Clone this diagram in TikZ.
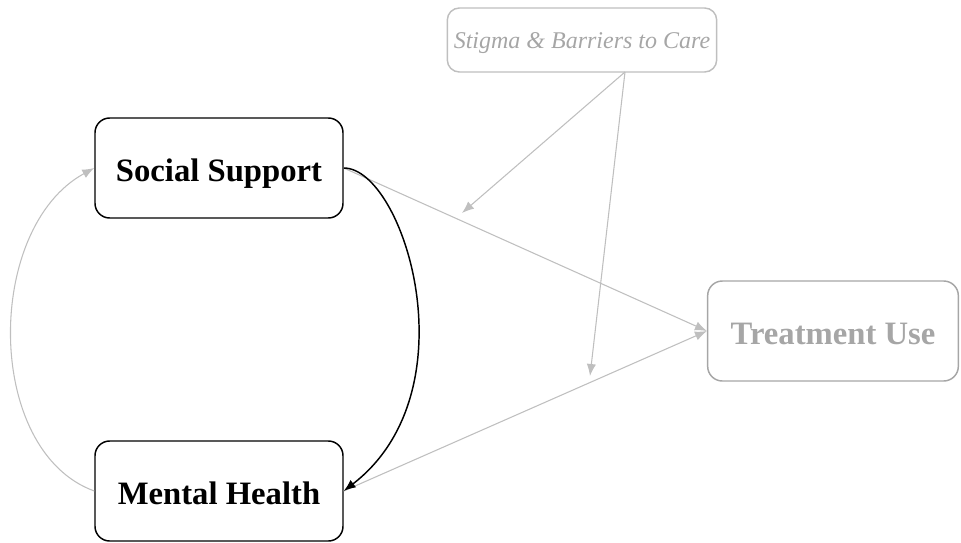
\documentclass[tikz,border=0pt]{standalone}
\usepackage{fontspec}
\setmainfont{Liberation Serif}
\usetikzlibrary{arrows.meta}
\definecolor{lightline}{HTML}{BFBFBF}
\definecolor{greytext}{HTML}{A6A6A6}

\begin{document}
\begin{tikzpicture}[x=0.75pt,y=-0.75pt]
\tikzstyle{var}=[rectangle,rounded corners=11pt,draw=black,line width=1.1pt,minimum width=186pt,minimum height=75pt,text height=20pt,text depth=0pt,font=\fontsize{24.5}{28}\selectfont\bfseries]
\tikzstyle{path}=[draw=lightline,line width=0.8pt,-{Latex[length=9pt,width=7pt]}]
\useasboundingbox (0,0) rectangle (961,543);

% Observed variables
\node (SS) [var] at (219,168) {Social Support};
\node (MH) [var] at (219,491) {Mental Health};
\node (TU) [var,draw=greytext,text=greytext,minimum width=188pt] at (833,331) {Treatment Use};

% Moderator
\node (SB) [var,draw=lightline,text=greytext,minimum width=202pt,minimum height=48pt,rounded corners=9pt,text height=12pt,text depth=0pt,font=\fontsize{18}{21}\selectfont\itshape] at (582,40) {Stigma \& Barriers to Care};
\coordinate (SBout) at (625,72);
\coordinate (modA) at (462,213);
\coordinate (modB) at (590,376);

% Main paths
\draw[path] (SS.east) -- (TU.west);
\draw[path] (MH.east) -- (TU.west);

% Covariances
\draw[line width=1.1pt,-{Latex[length=9pt,width=7pt]}] (SS.east) .. controls +(60,0) and +(130,-100) .. (MH.east);
\draw[path] (MH.west) .. controls +(-110,-40) and +(-110,60) .. (SS.west);

% Moderation
\draw[path] (SBout) -- (modA);
\draw[path] (SBout) -- (modB);

\end{tikzpicture}
\end{document}
